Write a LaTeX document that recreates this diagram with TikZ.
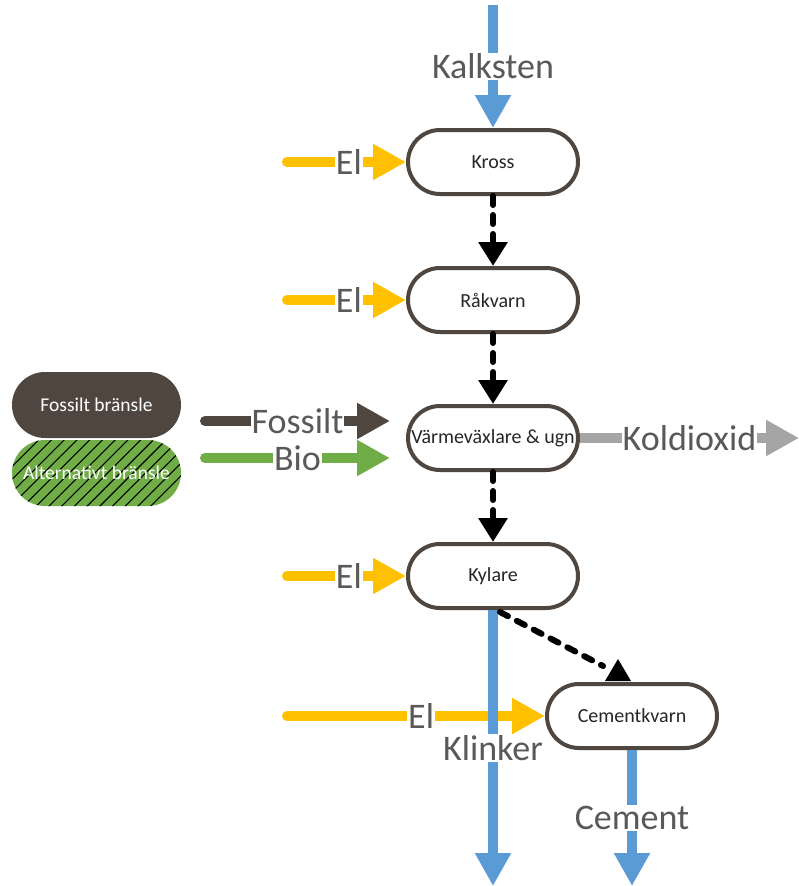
\documentclass[tikz,border=0pt]{standalone}
\usepackage{fontspec}
\setmainfont{Carlito}
\usetikzlibrary{arrows.meta,patterns.meta,calc}
\definecolor{boxbrown}{HTML}{4F4640}
\definecolor{elyellow}{HTML}{FFC000}
\definecolor{flowblue}{HTML}{5B9BD5}
\definecolor{biogreen}{HTML}{70AD47}
\definecolor{co2gray}{HTML}{A5A5A5}
\definecolor{labelgray}{HTML}{595959}
\tikzset{
  procbox/.style={draw=boxbrown, line width=4pt, fill=white, rounded corners=32pt,
    minimum width=170pt, minimum height=64pt, inner sep=0pt, text=black!85,
    font=\fontsize{20}{24}\selectfont},
  fuelbox/.style={rounded corners=33pt, minimum width=169pt, minimum height=66pt,
    inner sep=0pt, text=white, font=\fontsize{19.5}{24}\selectfont},
  flowlabel/.style={fill=white, inner sep=1pt, text=labelgray,
    font=\fontsize{36}{36}\selectfont},
  flowarrow/.style={line width=10pt, -{Triangle[length=33pt,width=34pt]}},
  roundstart/.style={line cap=round},
  dashflow/.style={line width=6pt, black, dash pattern=on 9pt off 10pt, line cap=round},
  dashtip/.style={line width=6pt, black, dash pattern=on 9pt off 10pt, line cap=round,
    -{Triangle[length=24pt,width=28pt,line cap=butt]}}
}
\begin{document}
\begin{tikzpicture}[x=1pt,y=-1pt]
\useasboundingbox (0,0) rectangle (799,886);

% process boxes
\node[procbox] (kross) at (493,162) {Kross};
\node[procbox] (rakvarn) at (493,300) {Råkvarn};
\node[procbox] (varme) at (493,438) {Värmeväxlare \& ugn};
\node[procbox] (kylare) at (493,576) {Kylare};
\node[procbox] (cement) at (632,716) {Cementkvarn};

% fuel boxes
\node[fuelbox, fill=boxbrown] (fossil) at (96.5,405) {Fossilt bränsle};
\node[fuelbox, preaction={fill=biogreen},
  pattern={Lines[angle=45,distance=9pt,line width=1.1pt]}, pattern color=black] (alt) at (96.5,473) {};
\node[text=white, font=\fontsize{19.5}{24}\selectfont] (altlabel) at (alt.center) {Alternativt bränsle};

% free ends
\coordinate (kalktop) at (493,5);
\coordinate (el1) at (287,162);
\coordinate (el2) at (287,300);
\coordinate (el4) at (287,576);
\coordinate (el5) at (287,716);
\coordinate (fosstart) at (205,421);
\coordinate (fosend) at (390,421);
\coordinate (biostart) at (205,458);
\coordinate (bioend) at (390,458);
\coordinate (co2end) at (799,438);
\coordinate (klinkend) at (493,886);
\coordinate (cemend) at (632,886);

% Kalksten
\draw[flowarrow, flowblue] (kalktop) -- (kross.north) node[midway, flowlabel] {Kalksten};

% El arrows
\draw[flowarrow, roundstart, elyellow] (el1) -- (kross.west) node[pos=0.52, flowlabel] {El};
\draw[flowarrow, roundstart, elyellow] (el2) -- (rakvarn.west) node[pos=0.52, flowlabel] {El};
\draw[flowarrow, roundstart, elyellow] (el4) -- (kylare.west) node[pos=0.52, flowlabel] {El};
\draw[flowarrow, roundstart, elyellow] (el5) -- (cement.west) node[pos=0.52, flowlabel] {El};

% Fossilt / Bio
\draw[flowarrow, roundstart, boxbrown] (fosstart) -- (fosend) node[midway, flowlabel] {Fossilt};
\draw[flowarrow, roundstart, biogreen] (biostart) -- (bioend) node[midway, flowlabel] {Bio};

% Koldioxid
\draw[flowarrow, co2gray] (varme.east) -- (co2end) node[midway, flowlabel] {Koldioxid};

% Klinker and Cement outputs
\draw[flowarrow, flowblue] (kylare.south) -- (klinkend) node[midway, flowlabel] {Klinker};
\draw[flowarrow, flowblue] (cement.south) -- (cemend) node[midway, flowlabel] {Cement};

% dashed material flow
\draw[dashtip] (kross.south) -- (rakvarn.north);
\draw[dashtip] (rakvarn.south) -- (varme.north);
\draw[dashtip] (varme.south) -- (kylare.north);
\coordinate (kcend) at (603,666);
\draw[dashflow] ($(kylare.south)+(7,2)$) -- (kcend);
\fill[black] ($(cement.north)+(-27,-1)$) -- ++(13,-22) -- ++(13,22) -- cycle;
\end{tikzpicture}
\end{document}
